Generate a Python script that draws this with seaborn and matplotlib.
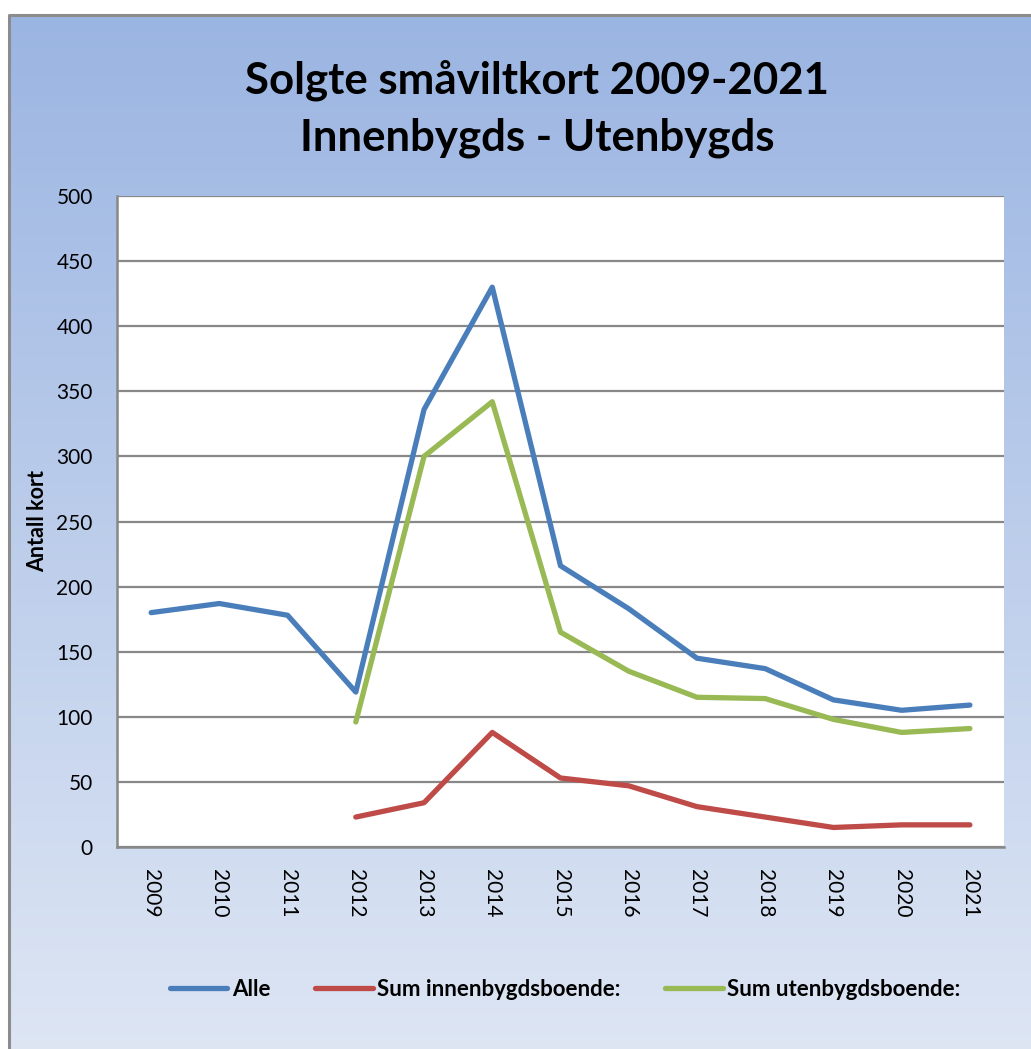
import matplotlib
matplotlib.use("Agg")
import matplotlib.pyplot as plt
import seaborn as sns
import pandas as pd
import numpy as np

years = list(range(2009, 2022))
alle = [180, 187, 178, 119, 336, 430, 216, 183, 145, 137, 113, 105, 109]
innen = [np.nan, np.nan, np.nan, 23, 34, 88, 53, 47, 31, 23, 15, 17, 17]
uten = [np.nan, np.nan, np.nan, 96, 300, 342, 165, 135, 115, 114, 98, 88, 91]
series_names = ["Alle", "Sum innenbygdsboende:", "Sum utenbygdsboende:"]
colors = ["#4A7EBB", "#BE4B48", "#98B954"]

df = pd.DataFrame({"year": years, series_names[0]: alle,
                   series_names[1]: innen, series_names[2]: uten})
long = df.melt(id_vars="year", var_name="serie", value_name="antall").dropna()

sns.set_style("white")
plt.rcParams["font.family"] = ["Lato", "DejaVu Sans"]
plt.rcParams["text.color"] = "black"
plt.rcParams["xtick.color"] = "black"
plt.rcParams["ytick.color"] = "black"
plt.rcParams["axes.labelcolor"] = "black"

W, H = 1031, 1049
fig = plt.figure(figsize=(W / 100, H / 100), dpi=100)

# gradient background with frame
bg = fig.add_axes([0, 0, 1, 1], zorder=-5)
bg.set_xlim(0, W)
bg.set_ylim(H, 0)
bg.axis("off")
grad = np.linspace(0, 1, 256)[:, None]
top = np.array([0x9B, 0xB5, 0xE2]) / 255
bot = np.array([0xDE, 0xE6, 0xF4]) / 255
img = top + (bot - top) * grad[..., None]
bg.imshow(img, extent=(9, W + 10, H + 10, 15), aspect="auto")
bg.plot([9, 9, W + 10], [H + 10, 15, 15], color="#8C8C8C", lw=2.2)

ax = fig.add_axes([117 / W, (H - 847) / H, (1004 - 117) / W, (847 - 196) / H])
ax.set_facecolor("white")
sns.lineplot(data=long, x="year", y="antall", hue="serie", hue_order=series_names,
             palette=colors, linewidth=3.8, ax=ax, legend=False)
ax.set_xlim(2008.5, 2021.5)
ax.set_ylim(0, 500)
ax.set_yticks(range(0, 501, 50))
ax.set_xticks(years)
ax.set_xticklabels([str(y) for y in years], rotation=270, fontsize=15)
ax.tick_params(axis="y", labelsize=15, pad=14)
ax.tick_params(axis="x", pad=12)
ax.yaxis.grid(True, color="#888888", linewidth=1.6)
ax.set_axisbelow(True)
for s in ["top", "right"]:
    ax.spines[s].set_visible(False)
for s in ["left", "bottom"]:
    ax.spines[s].set_color("#888888")
    ax.spines[s].set_linewidth(1.8)
ax.set_xlabel("")
ax.set_ylabel("Antall kort", fontsize=15.5, fontweight="bold", labelpad=6)

fig.text(537 / W, 1 - 80 / H, "Solgte småviltkort 2009-2021", ha="center", va="center",
         fontsize=31.5, fontweight="bold")
fig.text(537 / W, 1 - 138 / H, "Innenbygds - Utenbygds", ha="center", va="center",
         fontsize=31.5, fontweight="bold")

handles = [plt.Line2D([], [], color=c, lw=3.8) for c in colors]
leg = fig.legend(handles, series_names, loc="center", bbox_to_anchor=(565 / W, 1 - 989 / H),
                 ncol=3, frameon=False, handlelength=2.6, handletextpad=0.2,
                 columnspacing=2.0, prop={"weight": "bold", "size": 16})

fig.savefig("out.png", dpi=100)
